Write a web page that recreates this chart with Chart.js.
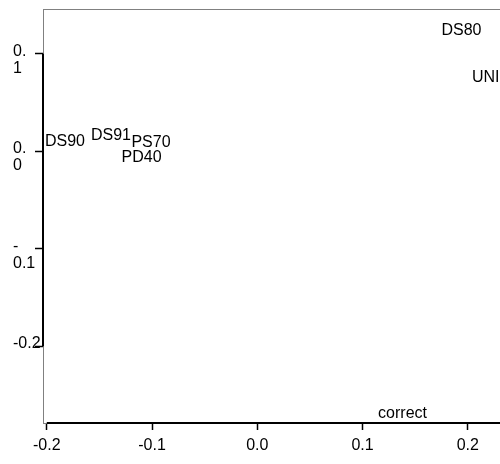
<!DOCTYPE html>
<html>
<head>
<meta charset="utf-8">
<script src="https://cdn.jsdelivr.net/npm/chart.js@4"></script>
<style>
  html, body { margin: 0; padding: 0; background: #fff; }
  #wrap { width: 500px; height: 464px; }
</style>
</head>
<body>
<div id="wrap"><canvas id="chartBiplot"></canvas></div>
<script>
// === data ===
const labels = ["DS90", "DS91", "PS70", "PD40", "DS80", "UNI", "correct"];
const xValues = [-0.1827, -0.139, -0.101, -0.110, 0.194, 0.217, 0.138];
const yValues = [0.011, 0.017, 0.010, -0.005, 0.125, 0.0766, -0.268];
const xTicks = [-0.2, -0.1, 0.0, 0.1, 0.2];
const yTicks = [-0.2, -0.1, 0.0, 0.1];
const yTickText = { "0.1": ["0.", "1"], "0": ["0.", "0"], "-0.1": ["-", "0.1"], "-0.2": ["-0.2", ""] };

const FONT = "'Liberation Sans', Arial, sans-serif";

// text labels at each point + grey box top + black axis segments
const labelPlugin = {
  id: "labelPlugin",
  afterDatasetsDraw(chart) {
    const ctx = chart.ctx;
    const area = chart.chartArea;
    const xs = chart.scales.x;
    const ys = chart.scales.y;
    const meta = chart.getDatasetMeta(0);

    ctx.save();
    ctx.beginPath();
    ctx.rect(area.left, area.top, area.right - area.left, area.bottom - area.top);
    ctx.clip();
    ctx.fillStyle = "#000";
    ctx.font = "16px " + FONT;
    ctx.textAlign = "center";
    ctx.textBaseline = "middle";
    meta.data.forEach(function (pt, i) {
      ctx.fillText(labels[i], pt.x, pt.y + 1);
    });
    ctx.restore();

    ctx.save();
    // top of the box
    ctx.strokeStyle = "#808080";
    ctx.lineWidth = 1;
    ctx.beginPath();
    ctx.moveTo(area.left, area.top + 0.5);
    ctx.lineTo(area.right, area.top + 0.5);
    ctx.stroke();
    // axis lines
    ctx.strokeStyle = "#000";
    ctx.lineWidth = 2;
    ctx.beginPath();
    ctx.moveTo(area.left, ys.getPixelForValue(yTicks[yTicks.length - 1]));
    ctx.lineTo(area.left, ys.getPixelForValue(yTicks[0]));
    ctx.moveTo(xs.getPixelForValue(xTicks[0]), area.bottom);
    ctx.lineTo(area.right, area.bottom);
    ctx.stroke();
    ctx.restore();
  },
};

const ctxBiplot = document.getElementById("chartBiplot");
new Chart(ctxBiplot, {
  type: "scatter",
  data: {
    datasets: [
      {
        data: xValues.map(function (x, i) { return { x: x, y: yValues[i] }; }),
        pointRadius: 0,
        pointHoverRadius: 0,
      },
    ],
  },
  options: {
    responsive: true,
    maintainAspectRatio: false,
    animation: false,
    events: [],
    layout: { padding: { left: 13, top: 9, right: 0, bottom: 0 } },
    plugins: {
      legend: { display: false },
      tooltip: { enabled: false },
    },
    scales: {
      x: {
        type: "linear",
        min: -0.2036,
        max: 0.2306,
        afterBuildTicks: function (s) { s.ticks = xTicks.map(function (v) { return { value: v }; }); },
        afterFit: function (s) {
          s.height = 41;
          s.paddingLeft = 0;
          s.paddingRight = 0;
        },
        grid: {
          display: true,
          drawOnChartArea: false,
          drawTicks: true,
          tickLength: 7,
          tickColor: "#000",
          tickWidth: 1.5,
        },
        border: { display: true, color: "#808080", width: 1 },
        ticks: {
          color: "#000",
          font: { family: FONT, size: 16 },
          padding: 6,
          maxRotation: 0,
          autoSkip: false,
          callback: function (v) { return v.toFixed(1); },
        },
      },
      y: {
        type: "linear",
        min: -0.2788,
        max: 0.1459,
        afterBuildTicks: function (s) { s.ticks = yTicks.map(function (v) { return { value: v }; }); },
        afterFit: function (s) {
          s.width = 30;
          s.paddingTop = 0;
          s.paddingBottom = 0;
        },
        grid: {
          display: true,
          drawOnChartArea: false,
          drawTicks: true,
          tickLength: 8,
          tickColor: "#000",
          tickWidth: 1.5,
        },
        border: { display: true, color: "#808080", width: 1 },
        ticks: {
          color: "#000",
          font: { family: FONT, size: 16, lineHeight: 1.06 },
          crossAlign: "far",
          labelOffset: 6,
          autoSkip: false,
          callback: function (v) { return yTickText[String(Math.round(v * 10) / 10)]; },
        },
      },
    },
  },
  plugins: [labelPlugin],
});
</script>
</body>
</html>
